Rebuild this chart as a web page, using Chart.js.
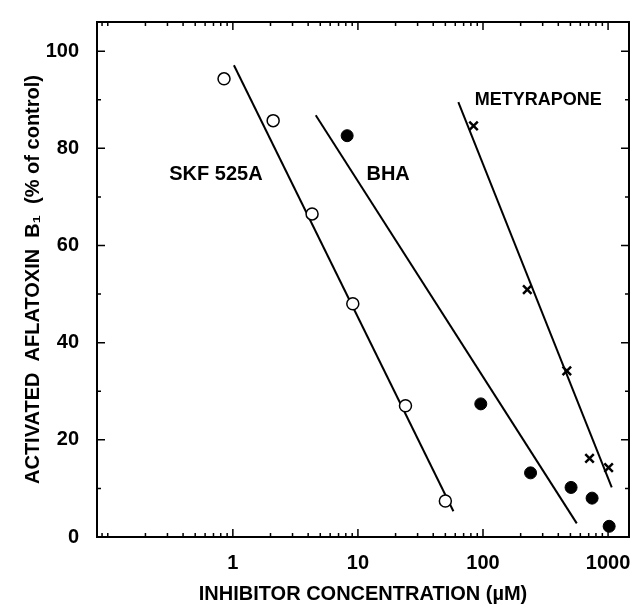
<!DOCTYPE html>
<html>
<head>
<meta charset="utf-8">
<script src="https://cdn.jsdelivr.net/npm/chart.js@4.4.1/dist/chart.umd.min.js"></script>
<style>
  html, body { margin: 0; padding: 0; background: #fff; }
</style>
</head>
<body>
<canvas id="graficoAflatoxin" width="638" height="613"></canvas>
<script>
  // measured points (concentration in uM, activity in % of control)
  const skfConc = [0.85, 2.1, 4.3, 9.1, 24, 50];
  const skfAct = [94.3, 85.7, 66.5, 48, 27, 7.4];
  const bhaConc = [8.2, 96, 240, 506, 745, 1020];
  const bhaAct = [82.6, 27.4, 13.2, 10.2, 8.0, 2.2];
  const metConc = [84, 226, 468, 711, 1010];
  const metAct = [84.6, 50.9, 34.2, 16.2, 14.3];

  // regression lines, end points as drawn
  const skfFitConc = [1.02, 58];
  const skfFitAct = [97.1, 5.3];
  const bhaFitConc = [4.6, 562];
  const bhaFitAct = [86.8, 2.8];
  const metFitConc = [63.5, 1070];
  const metFitAct = [89.5, 10.2];

  // tick labels
  const xTickLabels = [1, 10, 100, 1000];
  const yTickLabels = [0, 20, 40, 60, 80, 100];

  // text labels next to the lines
  const labelNames = ['SKF 525A', 'BHA', 'METYRAPONE'];
  const labelConc = [0.31, 11.7, 86];
  const labelAct = [74.6, 74.6, 90];

  const pts = (xs, ys) => xs.map((v, i) => ({ x: v, y: ys[i] }));

  const xTickValues = [];
  for (let d = -2; d <= 3; d++) {
    for (let m = 1; m <= 9; m++) {
      const v = +(m * Math.pow(10, d)).toPrecision(3);
      if (v >= 0.082 && v <= 1470) xTickValues.push(v);
    }
  }
  const yTickValues = [0, 10, 20, 30, 40, 50, 60, 70, 80, 90, 100];

  const fonte = 'Liberation Sans, Arial, Helvetica, sans-serif';

  // ticks pointing inward on all four sides, plus the frame
  const innerTicks = {
    id: 'innerTicks',
    afterDraw(chart) {
      const { ctx, chartArea: a, scales: { x, y } } = chart;
      ctx.save();
      ctx.strokeStyle = '#000';
      ctx.lineWidth = 1.5;
      ctx.beginPath();
      x.ticks.forEach(t => {
        const px = x.getPixelForValue(t.value);
        const len = xTickLabels.includes(t.value) ? 8 : 4;
        ctx.moveTo(px, a.bottom); ctx.lineTo(px, a.bottom - len);
        ctx.moveTo(px, a.top); ctx.lineTo(px, a.top + len);
      });
      y.ticks.forEach(t => {
        const py = y.getPixelForValue(t.value);
        const len = yTickLabels.includes(t.value) ? 8 : 4;
        ctx.moveTo(a.left, py); ctx.lineTo(a.left + len, py);
        ctx.moveTo(a.right, py); ctx.lineTo(a.right - len, py);
      });
      ctx.stroke();
      ctx.lineWidth = 2;
      ctx.strokeRect(a.left, a.top, a.right - a.left, a.bottom - a.top);

      ctx.fillStyle = '#000';
      ctx.textBaseline = 'middle';
      ctx.textAlign = 'left';
      labelNames.forEach((txt, i) => {
        ctx.font = (txt === 'METYRAPONE' ? 'bold 18px ' : 'bold 20px ') + fonte;
        ctx.fillText(txt, x.getPixelForValue(labelConc[i]), y.getPixelForValue(labelAct[i]));
      });
      ctx.restore();
    }
  };

  const ctx = document.getElementById('graficoAflatoxin').getContext('2d');
  Chart.defaults.color = '#000';
  Chart.defaults.font.family = fonte;

  const grafico = new Chart(ctx, {
    type: 'scatter',
    data: {
      datasets: [
        {
          label: 'SKF 525A',
          data: pts(skfConc, skfAct),
          pointStyle: 'circle',
          pointRadius: 6,
          backgroundColor: '#fff',
          borderColor: '#000',
          borderWidth: 1.5
        },
        {
          label: 'BHA',
          data: pts(bhaConc, bhaAct),
          pointStyle: 'circle',
          pointRadius: 6,
          backgroundColor: '#000',
          borderColor: '#000',
          borderWidth: 1
        },
        {
          label: 'Metyrapone',
          data: pts(metConc, metAct),
          pointStyle: 'crossRot',
          pointRadius: 6,
          borderColor: '#000',
          borderWidth: 2.5
        },
        {
          data: pts(skfFitConc, skfFitAct),
          showLine: true, pointRadius: 0, borderColor: '#000', borderWidth: 2
        },
        {
          data: pts(bhaFitConc, bhaFitAct),
          showLine: true, pointRadius: 0, borderColor: '#000', borderWidth: 2
        },
        {
          data: pts(metFitConc, metFitAct),
          showLine: true, pointRadius: 0, borderColor: '#000', borderWidth: 2
        }
      ]
    },
    options: {
      responsive: false,
      animation: false,
      layout: { padding: { top: 15, right: 9, left: 0, bottom: 0 } },
      plugins: { legend: { display: false }, tooltip: { enabled: false } },
      scales: {
        x: {
          type: 'logarithmic',
          min: 0.082,
          max: 1470,
          bounds: 'data',
          grid: { display: false },
          border: { display: false },
          afterBuildTicks: s => { s.ticks = xTickValues.map(v => ({ value: v })); },
          afterFit: s => { s.height = 76; },
          ticks: {
            autoSkip: false,
            maxRotation: 0,
            padding: 6,
            font: { size: 20, weight: 'bold' },
            callback: v => xTickLabels.includes(v) ? String(v) : ''
          },
          title: {
            display: true,
            text: 'INHIBITOR CONCENTRATION (\u00b5M)',
            font: { size: 20, weight: 'bold' },
            padding: { top: 0, bottom: 7 }
          }
        },
        y: {
          min: 0,
          max: 106,
          grid: { display: false },
          border: { display: false },
          afterBuildTicks: s => { s.ticks = yTickValues.map(v => ({ value: v })); },
          afterFit: s => { s.width = 97; },
          ticks: {
            autoSkip: false,
            padding: 10,
            font: { size: 20, weight: 'bold' },
            callback: v => yTickLabels.includes(v) ? String(v) : ''
          },
          title: {
            display: true,
            text: 'ACTIVATED  AFLATOXIN  B\u2081  (% of control)',
            font: { size: 20, weight: 'bold' },
            padding: { top: 21, bottom: 0 }
          }
        }
      }
    },
    plugins: [innerTicks]
  });
</script>
</body>
</html>
